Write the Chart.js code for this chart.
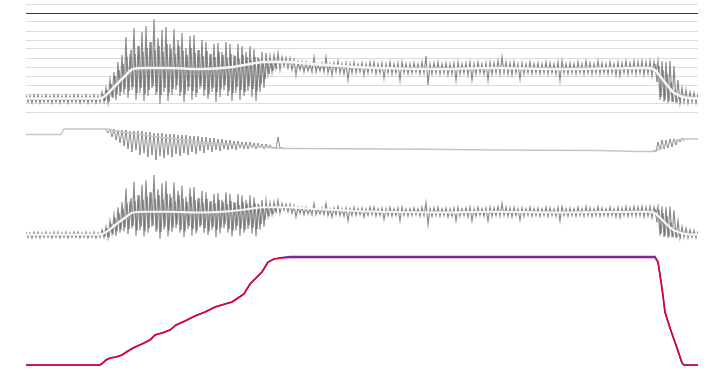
<!DOCTYPE html>
<html><head><meta charset="utf-8">
<script src="https://cdn.jsdelivr.net/npm/chart.js@4"></script>
<style>
html,body{margin:0;padding:0;background:#fff;}
#wrap{position:relative;width:726px;height:370px;overflow:hidden;}
canvas{position:absolute;left:0;}
</style></head><body>
<div id="wrap">
<canvas id="c1" width="726" height="120" style="top:0"></canvas>
<canvas id="c2" width="726" height="50" style="top:120px"></canvas>
<canvas id="c3" width="726" height="90" style="top:160px"></canvas>
<canvas id="c4" width="726" height="120" style="top:250px"></canvas>
</div>
<script>
// ---- Panel 1 / 3 : noisy signal (high / low per time bin) ----
const signalHigh = [
17,16,17,17,16,17,16,17,17,16,
17,16,17,17,16,17,16,17,16,20,
24,32,40,50,57,75,58,84,66,80,
86,70,93,74,82,85,68,83,72,79,
64,76,77,62,72,70,58,68,69,60,
70,68,57,68,66,60,66,63,55,60,
59,56,57,59,55,54,54,52,50,50,
50,48,55,48,49,55,48,49,51,48,
49,48,50,48,49,48,50,50,48,49,
48,50,48,49,50,48,48,49,48,50,
56,48,49,50,48,49,48,49,50,48,
49,50,48,50,48,49,50,49,51,55,
50,49,50,48,49,48,50,48,49,48,
50,49,48,50,51,48,49,48,50,48,
51,49,48,51,49,48,50,48,50,49,
51,49,51,50,51,50,51,50,51,51,
50,51,46,32,24,22,20,19,18];
const signalLow = [
10,9,10,9,10,10,9,10,9,10,
9,10,10,9,10,9,10,9,10,10,
9,15,12,16,18,14,22,12,19,11,
16,24,17,8,20,11,17,22,16,10,
21,12,15,23,16,13,20,10,15,22,
16,11,19,12,16,21,15,11,20,24,
38,40,44,42,46,44,42,37,42,40,
41,40,40,41,40,39,37,40,39,38,
32,39,39,40,37,39,40,38,39,34,
39,38,39,32,39,38,39,40,38,39,
27,38,39,38,39,37,38,32,38,39,
37,32,38,39,38,32,38,39,38,39,
38,37,39,33,38,39,38,39,38,39,
38,39,38,32,39,38,39,38,39,38,
39,38,39,38,39,38,39,37,36,39,
38,39,38,39,37,38,36,40,12,10,
9,10,9,9,10,9,10,9,10];
// denser core of the oscillation in the active phases
const coreStartA = 19;
const coreHighA = [18,22,28,36,42,48,55,62,58,66, 60,64,70,62,66,60,68,63,58,66, 61,57,64,59,62,56,61,58,55,60, 57,54,58,56,53,57,55,52,55,53, 50,52,50,49];
const coreLowA  = [11,10,14,18,20,23,21,25,19,24, 18,22,26,20,17,24,19,23,27,20, 18,25,21,19,26,22,18,24,20,23, 27,21,19,25,22,20,26,23,21,28, 33,38,41,43];
const coreStartB = 157;
const coreHighB = [48,46,42,38,30,22,16];
const coreLowB  = [30,15,12,11,10,10,9];
const smoothT = [0,18.5,19.75,22.25,24.75,26.75,29.75,35.25,43.5,51.75,56,59.75,66,68.5,78.5,88.5,103.5,116,133.5,155.25,157.25,158.5,160.25,161.75,163.5,165.25,168];
const smoothV = [13.5,13.5,16,26,36,43,44,44,43,45,48,50,50,49,46,44,43,44,43,44,42,36,27,20,16,14,13.5];
const gridMarker = 99; // highlighted reference level

// ---- Panel 2 ----
const p2StartA = 20;
const p2HighA = [35,36,36,35,35,35,34,34,34,34, 33,33,32,32,32,31,31,31,30,30, 30,29,29,29,28,28,27,27,26,26, 25,25,24,24,23,23,23,22,22,21, 21,20,18,28,17];
const p2LowA  = [32,28,25,22,19,16,13,15,10,12, 8,10,5,9,7,10,8,11,9,12, 10,13,11,14,12,15,13,15,14,16, 15,16,15,17,16,16,17,16,17,16, 17,17,16,17,16];
const p2StartB = 157;
const p2HighB = [15,23,25,25,26,26,26,27];
const p2LowB  = [13,15,16,17,18,20,23,24];
const p2LineT = [0,8.75,9.5,20.25,21,26,31,43.5,56,63.5,68.5,93.5,118.5,143.5,156,157.25,159.75,162.25,164,168];
const p2LineV = [30.5,30.5,36,36,35,32,29,23.3,19,16.7,16.5,16,15,14.5,13.5,14,19,24,26,26];

// ---- Panel 4 : progress ----
const progT = [0,18.5,19.25,20,21,22.5,24,25.5,27.25,29,31,32.25,34,36,37.5,39.75,42.25,44.75,47.25,49.75,51.5,53,54.5,56,57.5,59,60.5,62,64,66,157.25,158,159,159.75,161,162.75,164,164.5,168];
const progRed  = [0,0,2,5,7,8,10,14,18,21,25,30,32,35,40,44,49,53,58,61,63,67,71,81,87,93,103,106,107,107.5,107.5,103,77,53,37,17,2,0,0];
const progBlue = [0,0,2,5,7,8,10,14,18,21,25,30,32,35,40,44,49,53,58,61,63,67,71,81,87,93,103,106,107.5,108.5,108.5,103,77,53,37,17,2,0,0];

const T_MAX = 168;

function zig(high, low, start, off){
  const pts = [];
  for (let i = 0; i < high.length; i++){
    pts.push({x: start + i + off, y: high[i]});
    pts.push({x: start + i + off + 0.5, y: low[i]});
  }
  return pts;
}
function pairs(t, v){ return t.map((x,i)=>({x, y:v[i]})); }

function opts(yMin, yMax, padTop, padBottom, grid){
  return {
    responsive:false, animation:false, events:[],
    layout:{padding:{left:26,right:28,top:padTop,bottom:padBottom}},
    plugins:{legend:{display:false},tooltip:{enabled:false}},
    elements:{point:{radius:0}},
    scales:{
      x:{type:'linear',min:0,max:T_MAX,display:false},
      y:{type:'linear',min:yMin,max:yMax,display:!!grid,
         ticks:{display:false,stepSize:9},
         border:{display:false},
         grid:{drawTicks:false,lineWidth:1,
               color:(c)=> (c.tick && c.tick.value===gridMarker) ? '#c40000' : '#dddddd'}}
    }
  };
}

const noiseColor = 'rgba(115,115,115,0.82)';

function signalChart(id, padTop, padBottom, grid, smoothW){
  new Chart(document.getElementById(id), {
    type:'line',
    data:{datasets:[
      {data:pairs(smoothT, smoothV), borderColor:'#f6f6f6', borderWidth:smoothW, cubicInterpolationMode:'monotone', clip:false},
      {data:zig(coreHighA, coreLowA, coreStartA, 0.25), borderColor:noiseColor, borderWidth:1, tension:0},
      {data:zig(coreHighB, coreLowB, coreStartB, 0.25), borderColor:noiseColor, borderWidth:1, tension:0},
      {data:zig(signalHigh, signalLow, 0, 0), borderColor:noiseColor, borderWidth:1.2, tension:0}
    ]},
    options:opts(0,108,padTop,padBottom,grid)
  });
}
signalChart('c1', 4, 8, true, 2.5);
signalChart('c3', 3.75, 5.25, false, 2.2);

new Chart(document.getElementById('c2'), {
  type:'line',
  data:{datasets:[
    {data:pairs(p2LineT, p2LineV), borderColor:'#c4c4c4', borderWidth:1.5, cubicInterpolationMode:'monotone', clip:false},
    {data:zig(p2HighA, p2LowA, p2StartA, 0), borderColor:noiseColor, borderWidth:1, tension:0},
    {data:zig(p2HighB, p2LowB, p2StartB, 0), borderColor:noiseColor, borderWidth:1, tension:0}
  ]},
  options:opts(0,40,5,5,false)
});

new Chart(document.getElementById('c4'), {
  type:'line',
  data:{datasets:[
    {data:pairs(progT, progRed), borderColor:'rgb(228,0,48)', borderWidth:1.6, tension:0, clip:false},
    {data:pairs(progT, progBlue), borderColor:'rgb(80,60,200)', borderWidth:1.6, tension:0, clip:false}
  ]},
  options:opts(0,108,7,5,false)
});
</script>
</body></html>
